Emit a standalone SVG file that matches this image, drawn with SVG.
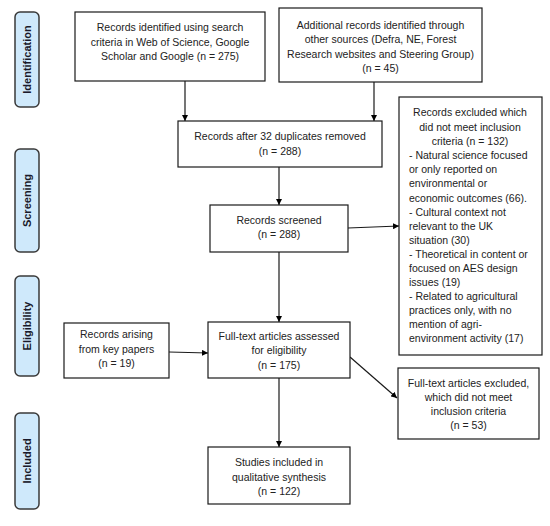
<svg xmlns="http://www.w3.org/2000/svg" width="550" height="526" viewBox="0 0 550 526">
<defs>
<marker id="ah" viewBox="0 0 10 10" refX="10" refY="5" markerWidth="6" markerHeight="6" orient="auto" markerUnits="userSpaceOnUse">
<path d="M0,0 L10,5 L0,10 z" fill="#000"/>
</marker>
<style>
.box{fill:#fff;stroke:#1a1a1a;stroke-width:1.2}
.phase{fill:#cfe9fb;stroke:#3a3a3a;stroke-width:1.5}
.t{font-family:"Liberation Sans",Arial,sans-serif;font-size:10.5px;fill:#222;text-anchor:middle}
.tl{font-family:"Liberation Sans",Arial,sans-serif;font-size:10.5px;fill:#222}
.ph{font-family:"Liberation Sans",Arial,sans-serif;font-size:11px;font-weight:bold;fill:#1a1a2a;text-anchor:middle}
.c{stroke:#1a1a1a;stroke-width:1.2;fill:none;marker-end:url(#ah)}
</style>
</defs>
<rect width="550" height="526" fill="#fff"/>

<g id="phase-identification"><rect class="phase" x="15" y="12" width="24" height="95" rx="5"/><text class="ph" transform="translate(31,59.5) rotate(-90)">Identification</text></g>
<g id="phase-screening"><rect class="phase" x="15" y="149" width="24" height="103" rx="5"/><text class="ph" transform="translate(31,200.5) rotate(-90)">Screening</text></g>
<g id="phase-eligibility"><rect class="phase" x="15" y="276" width="24" height="100" rx="5"/><text class="ph" transform="translate(31,326) rotate(-90)">Eligibility</text></g>
<g id="phase-included"><rect class="phase" x="15" y="413" width="24" height="96" rx="5"/><text class="ph" transform="translate(31,461) rotate(-90)">Included</text></g>

<g id="connectors">
<line class="c" x1="185" y1="81" x2="185" y2="121"/>
<line class="c" x1="374" y1="82" x2="374" y2="121"/>
<line class="c" x1="279" y1="167" x2="279" y2="205"/>
<line class="c" x1="348" y1="228" x2="399" y2="226"/>
<line class="c" x1="279" y1="252" x2="279" y2="322"/>
<line class="c" x1="169" y1="352" x2="208" y2="353"/>
<line class="c" x1="350" y1="357" x2="397" y2="398"/>
<line class="c" x1="279" y1="378" x2="279" y2="447"/>
</g>

<g id="n-search"><rect class="box" x="75" y="12" width="190" height="69"/>
<text class="t" x="170" y="31">Records identified using search</text>
<text class="t" x="170" y="46">criteria in Web of Science, Google</text>
<text class="t" x="170" y="60">Scholar and Google (n = 275)</text></g>

<g id="n-additional"><rect class="box" x="279" y="8" width="203" height="74"/>
<text class="t" x="380.5" y="29">Additional records identified through</text>
<text class="t" x="380.5" y="43">other sources (Defra, NE, Forest</text>
<text class="t" x="380.5" y="58">Research websites and Steering Group)</text>
<text class="t" x="380.5" y="72">(n = 45)</text></g>

<g id="n-dedup"><rect class="box" x="178" y="121" width="204" height="46"/>
<text class="t" x="280" y="140">Records after 32 duplicates removed</text>
<text class="t" x="280" y="155">(n = 288)</text></g>

<g id="n-screened"><rect class="box" x="210" y="205" width="138" height="47"/>
<text class="t" x="279" y="224">Records screened</text>
<text class="t" x="279" y="238">(n = 288)</text></g>

<g id="n-excluded1"><rect class="box" x="399" y="97" width="143" height="258"/>
<text class="t" x="470" y="116">Records excluded which</text>
<text class="t" x="470" y="131">did not meet inclusion</text>
<text class="t" x="470" y="145">criteria (n = 132)</text>
<text class="tl" x="409" y="159">- Natural science focused</text>
<text class="tl" x="409" y="173">or only reported on</text>
<text class="tl" x="409" y="187">environmental or</text>
<text class="tl" x="409" y="202">economic outcomes (66).</text>
<text class="tl" x="409" y="216">- Cultural context not</text>
<text class="tl" x="409" y="230">relevant to the UK</text>
<text class="tl" x="409" y="244">situation (30)</text>
<text class="tl" x="409" y="258">- Theoretical in content or</text>
<text class="tl" x="409" y="272">focused on AES design</text>
<text class="tl" x="409" y="286">issues (19)</text>
<text class="tl" x="409" y="300">- Related to agricultural</text>
<text class="tl" x="409" y="314">practices only, with no</text>
<text class="tl" x="409" y="328">mention of agri-</text>
<text class="tl" x="409" y="342">environment activity (17)</text></g>

<g id="n-keypapers"><rect class="box" x="64" y="323" width="105" height="55"/>
<text class="t" x="116.5" y="338">Records arising</text>
<text class="t" x="116.5" y="353">from key papers</text>
<text class="t" x="116.5" y="367">(n = 19)</text></g>

<g id="n-fulltext"><rect class="box" x="208" y="322" width="142" height="56"/>
<text class="t" x="279" y="340">Full-text articles assessed</text>
<text class="t" x="279" y="354">for eligibility</text>
<text class="t" x="279" y="369">(n = 175)</text></g>

<g id="n-excluded2"><rect class="box" x="398" y="368" width="141" height="71"/>
<text class="t" x="468.5" y="387">Full-text articles excluded,</text>
<text class="t" x="468.5" y="401">which did not meet</text>
<text class="t" x="468.5" y="415">inclusion criteria</text>
<text class="t" x="468.5" y="429">(n = 53)</text></g>

<g id="n-included"><rect class="box" x="208" y="447" width="142" height="57"/>
<text class="t" x="279" y="466">Studies included in</text>
<text class="t" x="279" y="481">qualitative synthesis</text>
<text class="t" x="279" y="495">(n = 122)</text></g>
</svg>
